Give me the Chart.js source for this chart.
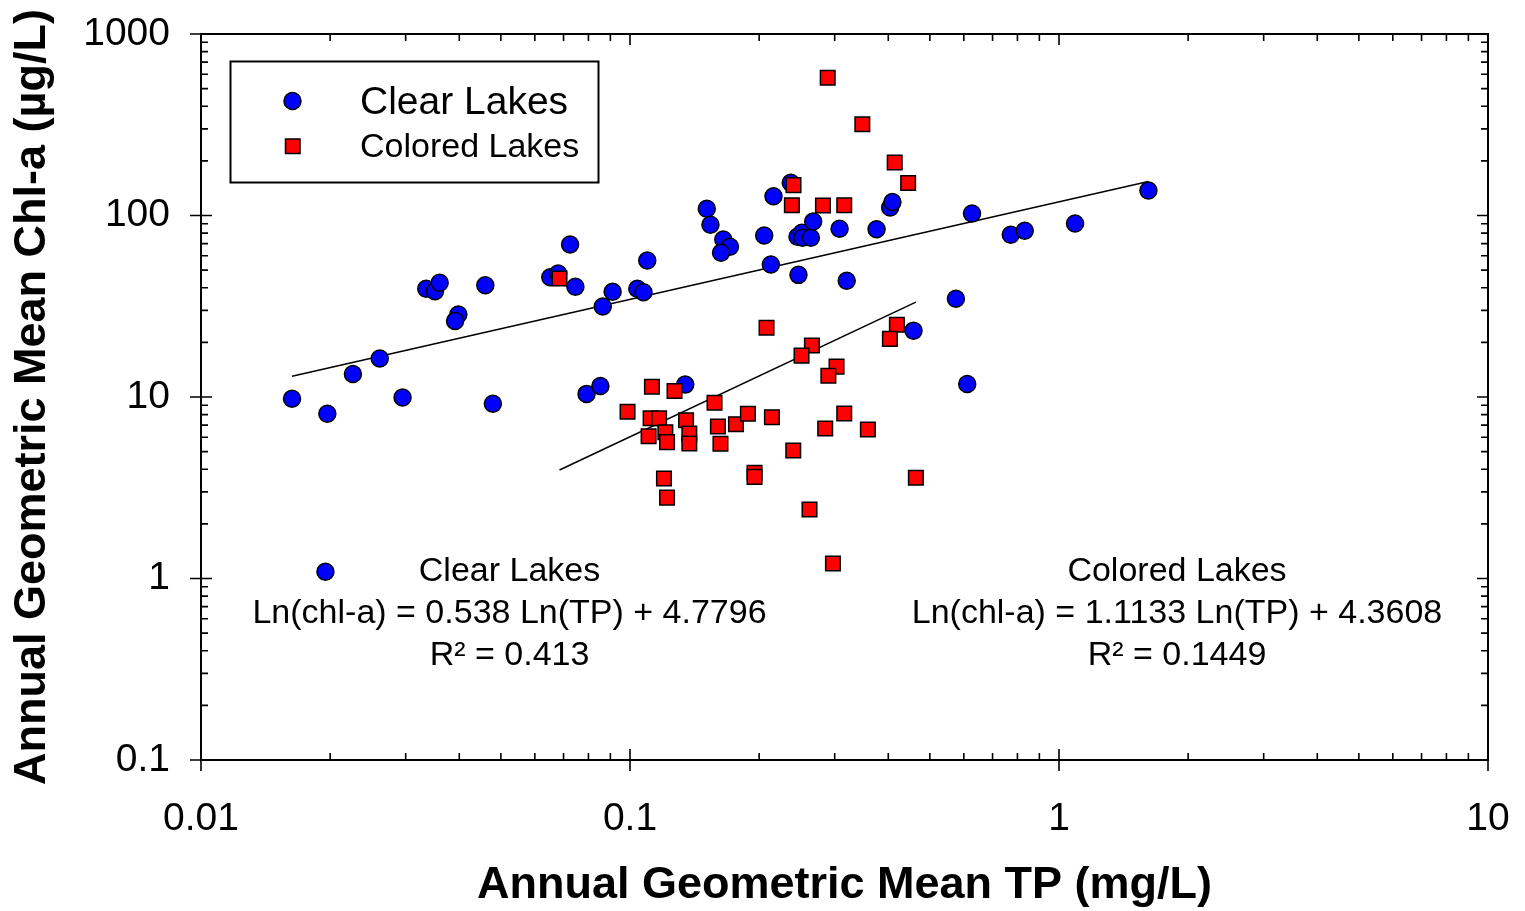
<!DOCTYPE html>
<html>
<head>
<meta charset="utf-8">
<script src="https://cdn.jsdelivr.net/npm/chart.js@4.4.1/dist/chart.umd.min.js"></script>
<style>
  html, body { margin: 0; padding: 0; background: #fff; }
  #wrap { width: 1525px; height: 911px; }
</style>
</head>
<body>
<div id="wrap"><canvas id="tpChart" width="1525" height="911"></canvas></div>
<script>
// annual geometric means, TP in mg/L and chl-a in ug/L
const clearTP = [0.0163, 0.0197, 0.0226, 0.0261, 0.0295, 0.0335, 0.0351, 0.0360, 0.0398, 0.0391,
  0.0460, 0.0479, 0.0652, 0.0680, 0.0725, 0.0746, 0.0792, 0.0853, 0.0864, 0.0911,
  0.104, 0.1075, 0.1097, 0.1345, 0.151, 0.154, 0.165, 0.171, 0.163, 0.2055,
  0.213, 0.216, 0.237, 0.247, 0.2457, 0.2516, 0.2524, 0.264, 0.2673, 0.308,
  0.320, 0.3756, 0.404, 0.409, 0.458, 0.575, 0.611, 0.627, 0.772, 0.832, 1.09, 1.616];
const clearChl = [9.77, 8.08, 13.4, 16.3, 9.94, 39.5, 38.3, 42.6, 28.5, 26.2,
  41.3, 9.17, 45.7, 47.9, 69.2, 40.5, 10.4, 11.5, 31.5, 38.0,
  39.5, 37.8, 56.5, 11.7, 108.9, 88.9, 73.8, 67.2, 62.3, 77.6,
  53.7, 127.7, 151.4, 47.1, 76.3, 80.3, 75.4, 75.4, 92.7, 84.5,
  43.7, 84.0, 110.7, 118.7, 23.2, 34.8, 11.8, 102.6, 78.3, 82.4, 90.3, 137.3];

const coloredTP = [0.0685, 0.289, 0.348, 0.414, 0.445, 0.2405, 0.2384, 0.2817, 0.3158, 0.2081,
  0.4189, 0.4035, 0.2655, 0.2511, 0.303, 0.290, 0.1125, 0.127, 0.0987, 0.1574,
  0.1117, 0.1169, 0.1351, 0.1209, 0.1105, 0.122, 0.1375, 0.1375, 0.1603, 0.1766,
  0.1883, 0.2142, 0.1625, 0.3158, 0.2851, 0.3585, 0.2402, 0.1951, 0.1951, 0.120,
  0.122, 0.2621, 0.4638, 0.2972];
const coloredChl = [45.0, 574, 318, 196, 151, 147, 114, 113.5, 113.9, 24.1,
  25.0, 20.9, 19.2, 16.9, 14.7, 13.1, 11.4, 10.8, 8.29, 9.29,
  7.64, 7.64, 7.45, 6.40, 6.08, 5.64, 6.29, 5.54, 6.88, 7.08,
  8.08, 7.74, 5.52, 8.11, 6.71, 6.62, 5.07, 3.82, 3.63, 3.56,
  2.79, 2.40, 3.59, 1.21];

// symbol shown beside the clear-lake equation
const noteTP = [0.0195];
const noteChl = [1.09];

// ln(chl-a) = slope * ln(TP) + intercept, then R²
const clearFit = [0.538, 4.7796, 0.413];
const coloredFit = [1.1133, 4.3608, 0.1449];

const xTicks = [0.01, 0.1, 1, 10];
const yTicks = [0.1, 1, 10, 100, 1000];

const FONT = "'Liberation Sans', Arial, Helvetica, sans-serif";
const BLUE = "#0000ff";
const RED = "#ff0000";

function toPoints(xs, ys) {
  return xs.map((x, i) => ({ x: x, y: ys[i] }));
}

function fitPoints(xs, fit) {
  const lo = Math.min(...xs);
  const hi = Math.max(...xs);
  return [lo, hi].map(x => ({ x: x, y: Math.exp(fit[1] + fit[0] * Math.log(x)) }));
}

// box with mirrored ticks on all four sides
const framePlugin = {
  id: "frame",
  afterDatasetsDraw(chart) {
    const { ctx, chartArea: a, scales } = chart;
    const sx = scales.x, sy = scales.y;
    ctx.save();
    ctx.strokeStyle = "#000";
    ctx.lineWidth = 2;
    ctx.strokeRect(a.left, a.top, a.right - a.left, a.bottom - a.top);
    ctx.lineWidth = 1.6;
    ctx.beginPath();
    for (let e = -2; e <= 1; e++) {
      for (let m = 1; m <= 9; m++) {
        const v = m * Math.pow(10, e);
        if (v > 10.0001) break;
        const px = sx.getPixelForValue(v);
        if (m === 1) {
          ctx.moveTo(px, a.bottom + 11); ctx.lineTo(px, a.bottom - 11);
          ctx.moveTo(px, a.top); ctx.lineTo(px, a.top + 11);
        } else {
          ctx.moveTo(px, a.bottom); ctx.lineTo(px, a.bottom - 7);
          ctx.moveTo(px, a.top); ctx.lineTo(px, a.top + 7);
        }
      }
    }
    for (let e = -1; e <= 3; e++) {
      for (let m = 1; m <= 9; m++) {
        const v = m * Math.pow(10, e);
        if (v > 1000.01) break;
        const py = sy.getPixelForValue(v);
        if (m === 1) {
          ctx.moveTo(a.left - 11, py); ctx.lineTo(a.left + 11, py);
          ctx.moveTo(a.right, py); ctx.lineTo(a.right - 11, py);
        } else {
          ctx.moveTo(a.left, py); ctx.lineTo(a.left + 7, py);
          ctx.moveTo(a.right, py); ctx.lineTo(a.right - 7, py);
        }
      }
    }
    ctx.stroke();
    ctx.restore();
  }
};

// legend box and the two regression notes
const notesPlugin = {
  id: "notes",
  afterDraw(chart) {
    const { ctx, chartArea: a } = chart;
    const L = a.left, T = a.top;
    ctx.save();

    ctx.strokeStyle = "#000";
    ctx.lineWidth = 2;
    ctx.strokeRect(L + 29.5, T + 27.5, 368, 121);

    ctx.lineWidth = 1.5;
    ctx.fillStyle = BLUE;
    ctx.beginPath();
    ctx.arc(L + 91.5, T + 67, 8.5, 0, Math.PI * 2);
    ctx.fill(); ctx.stroke();
    ctx.fillStyle = RED;
    ctx.fillRect(L + 84.5, T + 105, 14.5, 14.5);
    ctx.strokeRect(L + 84.5, T + 105, 14.5, 14.5);

    ctx.fillStyle = "#000";
    ctx.textBaseline = "alphabetic";
    ctx.textAlign = "left";
    ctx.font = "39px " + FONT;
    ctx.fillText("Clear Lakes", L + 159, T + 80);
    ctx.font = "34px " + FONT;
    ctx.fillText("Colored Lakes", L + 159, T + 123);

    ctx.textAlign = "center";
    ctx.font = "34px " + FONT;
    const lines = (name, fit) => [
      name,
      "Ln(chl-a) = " + fit[0] + " Ln(TP) + " + fit[1],
      "R\u00b2 = " + fit[2]
    ];
    lines("Clear Lakes", clearFit).forEach((t, i) => ctx.fillText(t, L + 308.5, T + 547 + i * 42));
    lines("Colored Lakes", coloredFit).forEach((t, i) => ctx.fillText(t, L + 976, T + 547 + i * 42));
    ctx.restore();
  }
};

const circleStyle = {
  pointStyle: "circle",
  pointRadius: 8.5,
  pointHoverRadius: 8.5,
  backgroundColor: BLUE,
  borderColor: "#000",
  borderWidth: 1.5
};

new Chart(document.getElementById("tpChart"), {
  type: "scatter",
  data: {
    datasets: [
      Object.assign({ label: "Colored Lakes", data: toPoints(coloredTP, coloredChl), order: 0 }, circleStyle, {
        pointStyle: "rect", pointRadius: 10.3, pointHoverRadius: 10.3, backgroundColor: RED
      }),
      Object.assign({ label: "Clear Lakes", data: toPoints(clearTP, clearChl), order: 1 }, circleStyle),
      Object.assign({ label: "key", data: toPoints(noteTP, noteChl), order: 1 }, circleStyle),
      {
        label: "Clear fit", data: fitPoints(clearTP, clearFit), showLine: true, order: 2,
        borderColor: "#000", borderWidth: 1.5, pointRadius: 0, fill: false
      },
      {
        label: "Colored fit", data: fitPoints(coloredTP, coloredFit), showLine: true, order: 2,
        borderColor: "#000", borderWidth: 1.5, pointRadius: 0, fill: false
      }
    ]
  },
  options: {
    responsive: false,
    animation: false,
    devicePixelRatio: 1,
    layout: { padding: { top: 34, right: 37, left: 0, bottom: 0 } },
    plugins: {
      legend: { display: false },
      tooltip: { enabled: false }
    },
    scales: {
      x: {
        type: "logarithmic",
        min: 0.01,
        max: 10,
        grid: { display: false, drawTicks: false },
        border: { display: false },
        afterBuildTicks: s => { s.ticks = xTicks.map(v => ({ value: v })); },
        afterFit: s => {
          s.height = 151;
          s.paddingLeft = 0;
          s.paddingRight = 0;
        },
        ticks: {
          autoSkip: false,
          maxRotation: 0,
          padding: 36,
          color: "#000",
          font: { family: FONT, size: 39 },
          callback: v => String(v)
        },
        title: {
          display: true,
          text: "Annual Geometric Mean TP (mg/L)",
          color: "#000",
          font: { family: FONT, size: 45, weight: "bold", lineHeight: 1 },
          padding: { top: 0, bottom: 3 }
        }
      },
      y: {
        type: "logarithmic",
        min: 0.1,
        max: 1000,
        grid: { display: false, drawTicks: false },
        border: { display: false },
        afterBuildTicks: s => { s.ticks = yTicks.map(v => ({ value: v })); },
        afterFit: s => {
          s.width = 201;
          s.paddingTop = 0;
          s.paddingBottom = 0;
        },
        ticks: {
          autoSkip: false,
          padding: 31,
          color: "#000",
          font: { family: FONT, size: 39 },
          callback: v => String(v)
        },
        title: {
          display: true,
          text: "Annual Geometric Mean Chl-a (\u00b5g/L)",
          color: "#000",
          font: { family: FONT, size: 45, weight: "bold" },
          padding: { top: 6, bottom: 0 }
        }
      }
    }
  },
  plugins: [framePlugin, notesPlugin]
});
</script>
</body>
</html>
